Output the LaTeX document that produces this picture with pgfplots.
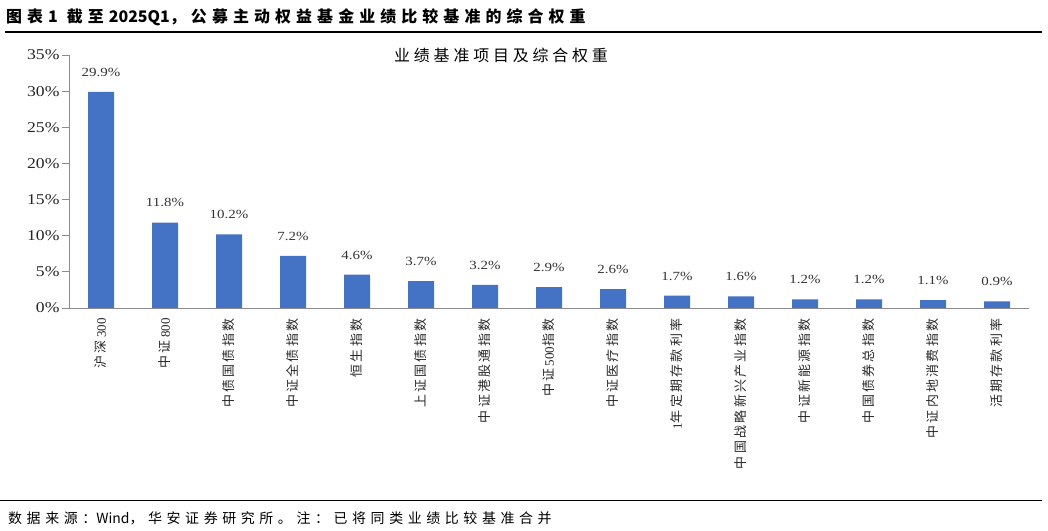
\documentclass[border=0pt]{standalone}
\usepackage{graphicx}
\usepackage{pgfplots}
\pgfplotsset{compat=1.18}
\usepackage{fontspec}
\setmainfont{Liberation Serif}
\newfontfamily\cjk{Noto Sans CJK SC}
\newfontfamily\cjkh[LetterSpace=32]{Noto Sans CJK SC}
\newfontfamily\cjkt[LetterSpace=24]{Noto Sans CJK SC}
\newfontfamily\cjks[LetterSpace=33]{Noto Sans CJK SC}
\newfontfamily\cjkl[LetterSpace=18]{Noto Sans CJK SC}
\definecolor{barblue}{HTML}{4472C4}
\definecolor{axgray}{HTML}{8C8C8C}
\begin{document}
\begin{tikzpicture}[x=1bp,y=1bp]
\useasboundingbox (0,0) rectangle (1048,531);
% header
\node[anchor=base west,inner sep=0pt,font=\fontsize{16}{16}\selectfont\cjkh\bfseries] at (6,508) {图表\hspace*{5bp}{\cjk\bfseries 1}\hspace*{9bp}截至\hspace*{5bp}{\cjk\bfseries 2025Q1}，公募主动权益基金业绩比较基准的综合权重};
\draw[line width=1.6bp,black] (5,499) -- (1042,499);
\draw[line width=0.8bp,black] (0,31) -- (1042,31);
\node[anchor=base west,inner sep=0pt,font=\fontsize{14}{14}\selectfont\cjks] at (8,7) {数据来源：{\cjk Wind}，华安证券研究所。注：已将同类业绩比较基准合并};
\node[font=\fontsize{16}{16}\selectfont\cjkt] at (501,476) {业绩基准项目及综合权重};
\begin{axis}[
  at={(69bp,223bp)}, anchor=south west,
  scale only axis, width=960bp, height=253bp,
  xmin=-0.5, xmax=14.5, ymin=0, ymax=35,
  axis x line*=bottom, axis y line*=left,
  axis line style={-,axgray,line width=0.9bp},
  tick align=outside, tick pos=left,
  major tick length=7bp, minor tick length=6bp,
  ytick={0,5,...,35},
  yticklabel={\scalebox{1.18}[1]{\pgfmathprintnumber{\tick}\%}},
  yticklabel style={font=\fontsize{15}{15}\selectfont, xshift=1bp, text=black!85},
  y tick style={axgray,line width=0.9bp},
  xtick={0,...,14},
  x tick style={draw=none},
  minor xtick={-0.5,0.5,...,14.5},
  minor x tick style={axgray,line width=0.9bp},
  xticklabels={沪深\textrm{300},中证\textrm{800},中债国债指数,中证全债指数,恒生指数,上证国债指数,中证港股通指数,中证\textrm{500}指数,中证医疗指数,\textrm{1}年定期存款利率,中国战略新兴产业指数,中证新能源指数,中国债券总指数,中证内地消费指数,活期存款利率},
  xticklabel style={font=\fontsize{13}{13}\selectfont\cjkl, rotate=90, anchor=east, text=black!85},
  /pgf/number format/assume math mode=true,
  ybar, bar width=26bp, bar shift=0pt,
  nodes near coords={\scalebox{1.2}[1]{\pgfmathprintnumber[fixed,fixed zerofill,precision=1]{\pgfplotspointmeta}\%}},
  nodes near coords style={font=\fontsize{12.5}{12.5}\selectfont, text=black!80, yshift=12bp},
  clip=false,
]
\addplot[fill=barblue, draw=none] coordinates {
(0,29.9) (1,11.8) (2,10.2) (3,7.2) (4,4.6) (5,3.7) (6,3.2) (7,2.9) (8,2.6) (9,1.7) (10,1.6) (11,1.2) (12,1.2) (13,1.1) (14,0.9)};
\end{axis}
\end{tikzpicture}
\end{document}
